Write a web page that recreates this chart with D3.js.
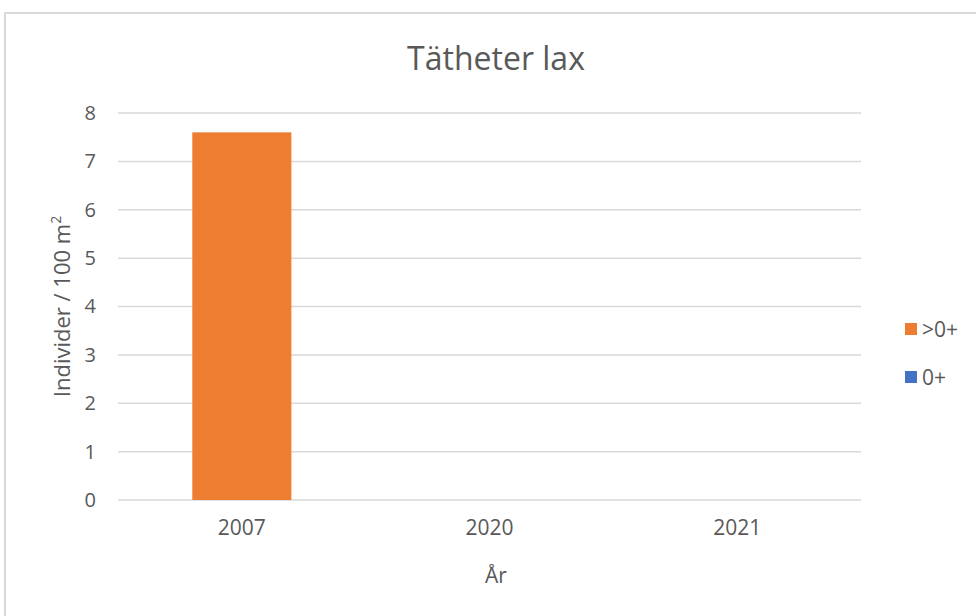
<!DOCTYPE html>
<html>
<head>
<meta charset="utf-8">
<script src="https://cdn.jsdelivr.net/npm/d3@7"></script>
<style>
  html, body { margin: 0; padding: 0; background: #fff; overflow: hidden; }
  svg { display: block; }
  text { font-family: "Open Sans", sans-serif; fill: #595959; }
</style>
</head>
<body>
<div id="chart"></div>
<script>
// chart data
const years = ["2007", "2020", "2021"];
const seriesNames = ["0+", ">0+"];
const youngValues = [0, 0, 0];      // 0+
const olderValues = [7.6, 0, 0];    // >0+
const yTicks = [0, 1, 2, 3, 4, 5, 6, 7, 8];
const colors = { "0+": "#4472C4", ">0+": "#ED7D31" };

const width = 976, height = 616;
const margin = { top: 113, right: 115, bottom: 116, left: 118 };
const innerWidth = width - margin.left - margin.right;
const innerHeight = height - margin.top - margin.bottom;

const svg = d3.select("#chart")
    .append("svg")
    .attr("width", width)
    .attr("height", height);

// outer chart frame (only left and top edges are visible)
svg.append("path")
    .attr("d", `M5,${height} V13 H${width}`)
    .attr("fill", "none")
    .attr("stroke", "#d9d9d9")
    .attr("stroke-width", 2);

const inner = svg.append("g")
    .attr("transform", `translate(${margin.left}, ${margin.top})`);

const xScale = d3.scaleBand()
    .domain(years)
    .range([0, innerWidth])
    .paddingInner(0.6)
    .paddingOuter(0.3);

const yScale = d3.scaleLinear()
    .domain([0, 8])
    .range([innerHeight, 0]);

// gridlines
inner.selectAll("line.grid")
    .data(yTicks)
    .join("line")
    .attr("class", "grid")
    .attr("x1", 0)
    .attr("x2", innerWidth)
    .attr("y1", d => yScale(d))
    .attr("y2", d => yScale(d))
    .attr("stroke", "#d9d9d9")
    .attr("stroke-width", 1.5);

// stacked bars
const table = years.map((y, i) => ({ year: y, "0+": youngValues[i], ">0+": olderValues[i] }));
const stacked = d3.stack().keys(seriesNames)(table);

inner.selectAll("g.series")
    .data(stacked)
    .join("g")
    .attr("class", "series")
    .attr("fill", d => colors[d.key])
    .selectAll("rect")
    .data(d => d)
    .join("rect")
    .attr("x", d => xScale(d.data.year))
    .attr("width", xScale.bandwidth())
    .attr("y", d => yScale(d[1]))
    .attr("height", d => yScale(d[0]) - yScale(d[1]));

// axes
const leftAxis = d3.axisLeft(yScale).tickValues(yTicks).tickSize(0).tickPadding(22);
const yAxisG = inner.append("g")
    .call(leftAxis)
    .attr("font-size", 20)
    .attr("font-family", null);
yAxisG.select(".domain").remove();
yAxisG.selectAll("text").attr("fill", "#595959");

const bottomAxis = d3.axisBottom(xScale).tickSize(0).tickPadding(20);
const xAxisG = inner.append("g")
    .attr("transform", `translate(0, ${innerHeight})`)
    .call(bottomAxis)
    .attr("font-size", 21)
    .attr("font-family", null);
xAxisG.select(".domain").remove();
xAxisG.selectAll("text").attr("fill", "#595959");

// title and axis labels
svg.append("text")
    .text("Tätheter lax")
    .attr("x", 496)
    .attr("y", 70)
    .attr("text-anchor", "middle")
    .attr("font-size", 32);

svg.append("text")
    .text("År")
    .attr("x", 496)
    .attr("y", 583)
    .attr("text-anchor", "middle")
    .attr("font-size", 21);

const yTitle = svg.append("text")
    .attr("transform", `translate(70, ${margin.top + innerHeight / 2}) rotate(-90)`)
    .attr("text-anchor", "middle")
    .attr("font-size", 22);
yTitle.append("tspan").text("Individer / 100 m");
yTitle.append("tspan").text("2").attr("dy", -9).attr("font-size", 14);

// legend
const legendItems = [">0+", "0+"];
const legend = svg.append("g")
    .attr("transform", "translate(905, 323)");
legendItems.forEach((name, i) => {
    const g = legend.append("g").attr("transform", `translate(0, ${i * 48})`);
    g.append("rect")
        .attr("width", 12)
        .attr("height", 12)
        .attr("fill", colors[name]);
    g.append("text")
        .attr("x", 17)
        .attr("y", 14)
        .text(name)
        .attr("font-size", 21);
});
</script>
</body>
</html>
